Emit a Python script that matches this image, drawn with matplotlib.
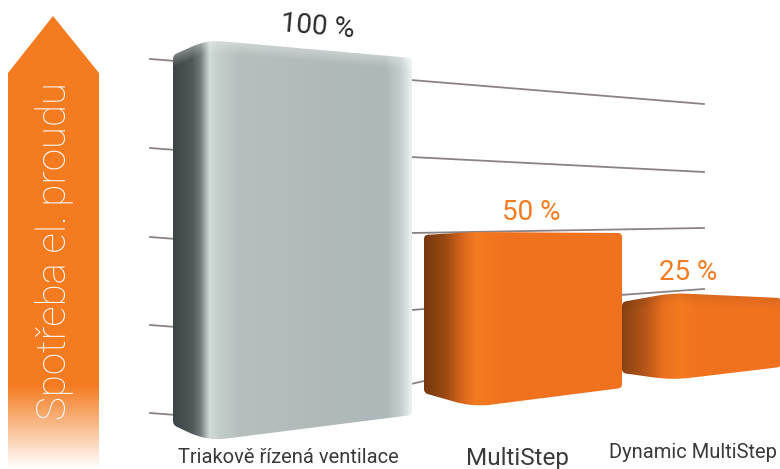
import numpy as np
import matplotlib
matplotlib.use("Agg")
import matplotlib.pyplot as plt
from matplotlib.path import Path
from matplotlib.patches import PathPatch, Polygon
from matplotlib.colors import to_rgb

# data
labels = ["Triakově řízená ventilace", "MultiStep", "Dynamic MultiStep"]
values = [100, 50, 25]
value_labels = ["100 %", "50 %", "25 %"]
axis_title = "Spotřeba el. proudu"

# picture is a fake 3D render, so each bar has its own perspective (px per %)
scale_left = [3.70, 3.16, 2.84]
scale_mid = [4.01, 3.50, 3.48]
scale_right = [3.57, 3.10, 2.76]
x_left = [173, 424, 622]
x_mid = [207, 473, 672]
x_right = [412, 622, 781]
base_left = [425, 393, 373]
base_mid = [441, 407, 380]
base_right = [415, 388, 367]

# shading across each bar, (x, colour)
gray_stops = [(173, "#3d4445"), (192, "#50585a"), (200, "#727a7a"), (209, "#cfdad7"),
              (218, "#c4cecb"), (240, "#b6bfbd"), (320, "#b1bab9"), (385, "#adb8b8"),
              (400, "#c3cecd"), (408, "#dfe8e6"), (413, "#f4f7f6")]
orange1_stops = [(424, "#76380f"), (445, "#9a4a12"), (462, "#d9661c"), (476, "#f47b20"),
                 (500, "#f1731f"), (622, "#f0721f")]
orange2_stops = [(622, "#8a4312"), (645, "#b5561a"), (662, "#e76f1e"), (678, "#f47a20"),
                 (700, "#f0721f"), (781, "#f0721f")]
bar_stops = [gray_stops, orange1_stops, orange2_stops]

# gridlines: stub left of the grey bar, long lines behind the others
left_stub_y = [59, 148, 237, 325, 413]
right_y_start = [80, 157, 233, 310, 384]
right_y_end = [104, 172, 228, 289, 381]
right_x_end = [704, 704, 704, 704, 424]

orange = "#f47b20"
grid_col = "#8b8283"

plt.rcParams["font.family"] = ["Roboto", "DejaVu Sans"]

fig = plt.figure(figsize=(7.8, 4.69), dpi=100)
ax = fig.add_axes([0, 0, 1, 1])


def shaded_bar(i):
    top_l = base_left[i] - values[i] * scale_left[i]
    top_m = base_mid[i] - values[i] * scale_mid[i]
    top_r = base_right[i] - values[i] * scale_right[i]
    xl, xm, xr = x_left[i], x_mid[i], x_right[i]

    xs = np.arange(xl, xr + 1)
    ys = np.arange(int(top_m) - 2, int(base_mid[i]) + 3)
    stops = bar_stops[i]
    rgb = np.array([to_rgb(c) for _, c in stops])
    px = [s[0] for s in stops]
    row = np.stack([np.interp(xs, px, rgb[:, k]) for k in range(3)], axis=1)
    img = np.repeat(row[None, :, :], len(ys), axis=0)

    # lighter/darker rim along the top
    top_line = np.interp(xs, [xl, xm, xr], [top_l, top_m, top_r])
    yy = ys[:, None] - top_line[None, :]
    rim = np.clip(1 - yy / 12.0, 0, 1)[:, :, None]
    if i == 0:
        img = img * (1 - 0.3 * rim) + 0.3 * rim
    elif i == 2:
        img = img * (1 - 0.08 * rim)

    im = ax.imshow(img, extent=[xl, xr + 1, ys[-1], ys[0]], aspect="auto",
                   interpolation="bilinear", zorder=3)

    def on_top(x):
        return np.interp(x, [xl, xm, xr], [top_l, top_m, top_r])

    def on_base(x):
        return np.interp(x, [xl, xm, xr], [base_left[i], base_mid[i], base_right[i]])

    r = 4
    verts = [(xl, top_l + r), (xl, top_l), (xl + r, on_top(xl + r)),
             (xm - 14, on_top(xm - 14)), (xm, top_m), (xm + 14, on_top(xm + 14)),
             (xr - r, on_top(xr - r)), (xr, top_r), (xr, top_r + r),
             (xr, base_right[i] - r), (xr, base_right[i]), (xr - r, on_base(xr - r)),
             (xm + 18, on_base(xm + 18)), (xm, base_mid[i]), (xm - 18, on_base(xm - 18)),
             (xl + r, on_base(xl + r)), (xl, base_left[i]), (xl, base_left[i] - r),
             (xl, top_l + r)]
    codes = [Path.MOVETO, Path.CURVE3, Path.CURVE3,
             Path.LINETO, Path.CURVE3, Path.CURVE3,
             Path.LINETO, Path.CURVE3, Path.CURVE3,
             Path.LINETO, Path.CURVE3, Path.CURVE3,
             Path.LINETO, Path.CURVE3, Path.CURVE3,
             Path.LINETO, Path.CURVE3, Path.CURVE3,
             Path.CLOSEPOLY]
    clip = PathPatch(Path(verts, codes), transform=ax.transData, fc="none", ec="none")
    ax.add_patch(clip)
    im.set_clip_path(clip)


# gridlines
for y in left_stub_y:
    ax.plot([150, 176], [y, y + 2], color=grid_col, lw=1.3, zorder=1)
for y0, y1, xe in zip(right_y_start, right_y_end, right_x_end):
    ax.plot([411, xe], [y0, y1], color=grid_col, lw=1.3, zorder=1)

for i in range(3):
    shaded_bar(i)

# the arrow on the left, fades out at the bottom
ramp = np.ones((469, 1, 4))
ramp[:, :, :3] = to_rgb(orange)
ramp[:, 0, 3] = np.clip((468 - np.arange(469)) / (468 - 385.0), 0, 1)
arrow_im = ax.imshow(ramp, extent=[8, 99, 469, 0], aspect="auto", zorder=2)
arrow = Polygon([(8, 73), (53, 16), (99, 73), (99, 468), (8, 468)], closed=True,
                transform=ax.transData, fc="none", ec="none")
ax.add_patch(arrow)
arrow_im.set_clip_path(arrow)

ax.text(55, 420, axis_title, rotation=90, color="white", fontsize=29, weight="light",
        ha="center", va="bottom", zorder=5)

# value labels
ax.text(318, 27, value_labels[0], color="#2b2b2b", fontsize=20, ha="center", va="center",
        rotation=-5, zorder=5)
ax.text(531, 213, value_labels[1], color=orange, fontsize=20, ha="center", va="center", zorder=5)
ax.text(688, 273, value_labels[2], color=orange, fontsize=20, ha="center", va="center", zorder=5)

# category labels
ax.text(288, 463, labels[0], color="#3a3a3a", fontsize=14.5, ha="center", va="baseline", zorder=5)
ax.text(518, 459, labels[1], color="#3a3a3a", fontsize=17.5, ha="center", va="center", zorder=5)
ax.text(693, 453, labels[2], color="#3a3a3a", fontsize=14.5, ha="center", va="center", zorder=5)

ax.set_xlim(0, 780)
ax.set_ylim(469, 0)
ax.axis("off")

fig.savefig("out.png", dpi=100)
